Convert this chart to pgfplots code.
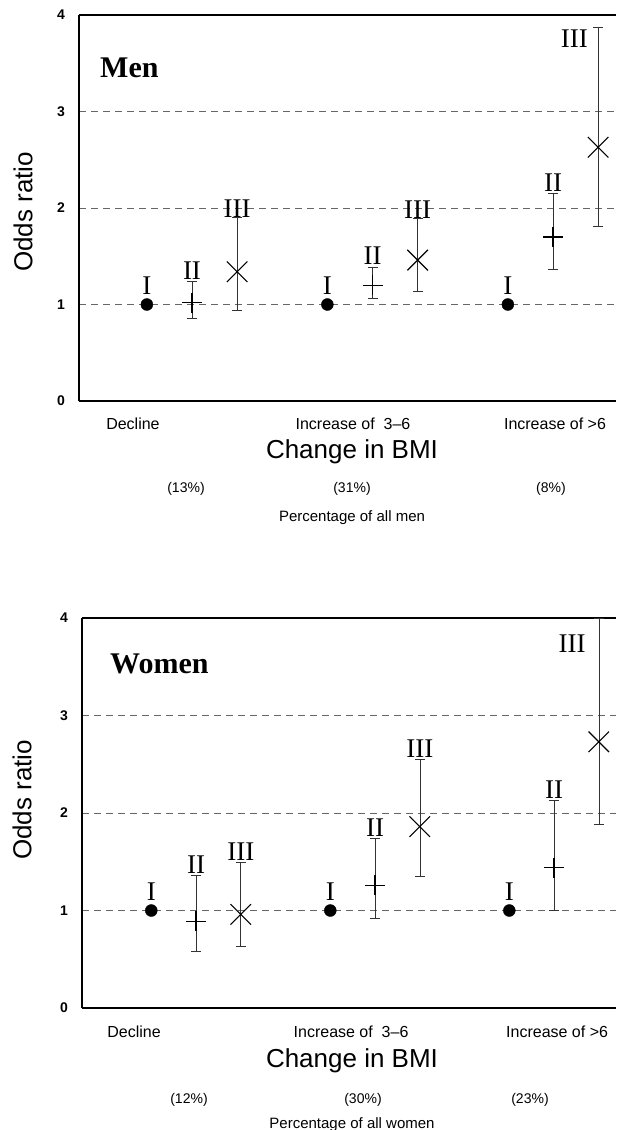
\documentclass[border=0pt]{standalone}
\usepackage{fontspec}
\setmainfont{Liberation Serif}
\setsansfont{Liberation Sans}
\usepackage{pgfplots}
\pgfplotsset{compat=1.18}

\newcommand{\fs}[1]{\fontsize{#1}{#1}\selectfont}

\tikzset{roman/.style={font=\fs{27}, inner sep=0pt, anchor=south}}
\pgfplotsset{
  orpanel/.style={
    scale only axis, clip=false, anchor=south west,
    axis x line=box, axis y line=left,
    axis line style={-, line width=1.4pt},
    ymin=0, ymax=4, ytick={0,1,2,3,4},
    ymajorgrids,
    grid style={black!60, line width=0.6pt, dash pattern=on 7pt off 5pt},
    major tick length=0pt,
    xticklabel pos=lower, ytick pos=left,
    /pgf/number format/assume math mode=true,
    yticklabel style={font=\fs{14}\sffamily\bfseries, inner sep=0pt, xshift=-14pt},
    xticklabel style={font=\fs{16}\sffamily, anchor=north, inner sep=0pt},
  },
  refpt/.style={only marks, mark=*, mark size=6pt, black},
  grpII/.style={only marks, mark=+, mark size=10pt, black, mark options={line width=1.3pt},
    error bars/.cd, y dir=both, y explicit, error mark=-,
    error bar style={line width=0.6pt, black!80},
    error mark options={rotate=90, mark size=5pt, line width=0.6pt, black!80}},
  grpIII/.style={only marks, mark=x, mark size=14.5pt, black, mark options={line width=1.1pt},
    error bars/.cd, y dir=both, y explicit, error mark=-,
    error bar style={line width=0.6pt, black!80},
    error mark options={rotate=90, mark size=5pt, line width=0.6pt, black!80}},
}

\begin{document}
\begin{tikzpicture}
\path[use as bounding box] (0pt,0pt) rectangle (616pt,-1130pt);

% ---------------- Men ----------------
\begin{axis}[orpanel, at={(79pt,-401pt)}, width=537pt, height=386pt,
    xmin=-0.626, xmax=2.349,
    xtick={-0.327,0.892,2.011},
    xticklabels={Decline, Increase of~ 3--6, Increase of >6},
    xticklabel style={yshift=-17pt}]
  \addplot[refpt] coordinates {(-0.25,1.00) (0.75,1.00) (1.75,1.00)};
  \addplot[grpII] table[x=x, y=y, y error plus=ep, y error minus=em] {
    x    y     ep    em
    0    1.02  0.22  0.16
    1    1.20  0.19  0.14
    2    1.70  0.45  0.34
  };
  \addplot[grpIII] table[x=x, y=y, y error plus=ep, y error minus=em] {
    x     y     ep    em
    0.25  1.34  0.56  0.40
    1.25  1.46  0.43  0.32
    2.25  2.63  1.24  0.82
  };
  \node[roman, yshift=10pt] at (axis cs:-0.25,1.00) {I};
  \node[roman, yshift=10pt] at (axis cs:0.75,1.00) {I};
  \node[roman, yshift=10pt] at (axis cs:1.75,1.00) {I};
  \node[roman, yshift=2pt] at (axis cs:0,1.24) {II};
  \node[roman, yshift=2pt] at (axis cs:1,1.39) {II};
  \node[roman, yshift=2pt] at (axis cs:2,2.15) {II};
  \node[roman, yshift=0pt] at (axis cs:0.25,1.90) {III};
  \node[roman, yshift=0pt] at (axis cs:1.25,1.89) {III};
  \node[roman, anchor=east, xshift=-10pt] at (axis cs:2.25,3.76) {III};
\end{axis}
\node[anchor=base west, inner sep=0pt, font=\fs{30}\bfseries] at (100pt,-77pt) {Men};
\node[rotate=90, font=\fs{26}\sffamily] at (23pt,-212pt) {Odds ratio};
\node[font=\fs{26}\sffamily] at (352pt,-452pt) {Change in BMI};
\node[font=\fs{14}\sffamily] at (186pt,-489pt) {(13\%)};
\node[font=\fs{14}\sffamily] at (352pt,-489pt) {(31\%)};
\node[font=\fs{14}\sffamily] at (551pt,-489pt) {(8\%)};
\node[font=\fs{15}\sffamily] at (352pt,-518pt) {Percentage of all men};

% ---------------- Women ----------------
\begin{axis}[orpanel, at={(82pt,-1008pt)}, width=534pt, height=390pt,
    xmin=-0.637, xmax=2.346,
    xtick={-0.346,0.866,2.017},
    xticklabels={Decline, Increase of~ 3--6, Increase of >6},
    xticklabel style={yshift=-18pt}]
  \addplot[refpt] coordinates {(-0.25,1.00) (0.75,1.00) (1.75,1.00)};
  \addplot[grpII] table[x=x, y=y, y error plus=ep, y error minus=em] {
    x    y     ep    em
    0    0.89  0.47  0.31
    1    1.26  0.48  0.34
    2    1.44  0.69  0.44
  };
  \addplot[grpIII] table[x=x, y=y, y error plus=ep, y error minus=em] {
    x     y     ep    em
    0.25  0.96  0.53  0.33
    1.25  1.86  0.69  0.51
    2.25  2.73  1.27  0.85
  };
  \node[roman, yshift=10pt] at (axis cs:-0.25,1.00) {I};
  \node[roman, yshift=10pt] at (axis cs:0.75,1.00) {I};
  \node[roman, yshift=10pt] at (axis cs:1.75,1.00) {I};
  \node[roman, yshift=2pt] at (axis cs:0,1.36) {II};
  \node[roman, yshift=2pt] at (axis cs:1,1.74) {II};
  \node[roman, yshift=2pt] at (axis cs:2,2.13) {II};
  \node[roman, yshift=2pt] at (axis cs:0.25,1.49) {III};
  \node[roman, yshift=2pt] at (axis cs:1.25,2.55) {III};
  \node[roman, anchor=east, xshift=-13pt] at (axis cs:2.25,3.74) {III};
\end{axis}
\node[anchor=base west, inner sep=0pt, font=\fs{30}\bfseries] at (110pt,-673pt) {Women};
\node[rotate=90, font=\fs{26}\sffamily] at (22pt,-800pt) {Odds ratio};
\node[font=\fs{26}\sffamily] at (352pt,-1061pt) {Change in BMI};
\node[font=\fs{14}\sffamily] at (189pt,-1100pt) {(12\%)};
\node[font=\fs{14}\sffamily] at (363pt,-1100pt) {(30\%)};
\node[font=\fs{14}\sffamily] at (530pt,-1100pt) {(23\%)};
\node[font=\fs{15}\sffamily] at (352pt,-1125pt) {Percentage of all women};
\end{tikzpicture}
\end{document}
